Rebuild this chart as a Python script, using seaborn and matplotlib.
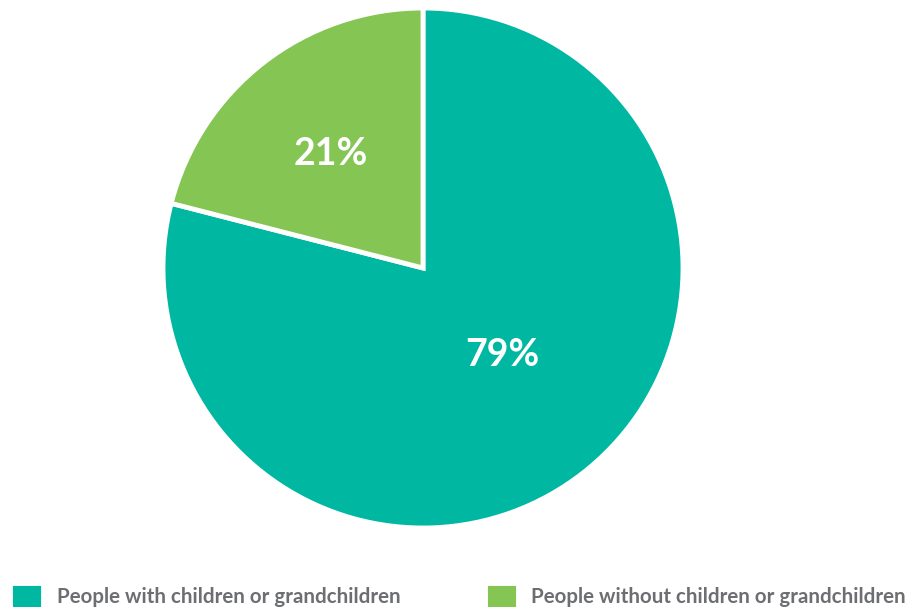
import numpy as np
import matplotlib.pyplot as plt
import seaborn as sns

labels = ['People with children or grandchildren', 'People without children or grandchildren']
shares = [79, 21]
colors = ['#00B7A2', '#84C553']

sns.set_theme(style='white')
plt.rcParams['font.family'] = ['Lato', 'DejaVu Sans']

fig = plt.figure(figsize=(9.12, 6.07), dpi=100)
ax = fig.add_axes([163 / 912, 1 - 528 / 607, 520 / 912, 520 / 607])

wedges, texts, autotexts = ax.pie(
    shares, colors=sns.color_palette(colors), startangle=90, counterclock=False,
    autopct='%d%%', pctdistance=0.5,
    wedgeprops=dict(edgecolor='white', linewidth=3.5),
    textprops=dict(color='white', fontsize=27, fontweight='bold'))

# place the percentage labels a bit differently per slice
for w, t, r, (nx, ny) in zip(wedges, autotexts, [0.45, 0.58], [(0.03, 0.02), (0, -0.02)]):
    mid = np.deg2rad((w.theta1 + w.theta2) / 2)
    t.set_position((r * np.cos(mid) + nx, r * np.sin(mid) + ny))

ax.set_xlim(-1, 1)
ax.set_ylim(-1, 1)
ax.set_aspect('equal')
ax.axis('off')

fig.legend(wedges, labels, loc='lower left', bbox_to_anchor=(10.5 / 912, -2 / 607), ncol=2,
           frameon=False, borderpad=0, borderaxespad=0,
           handlelength=1.6, handleheight=1.6, handletextpad=0.65,
           columnspacing=4.1, prop=dict(size=14.8, weight='bold'), labelcolor='#6D6E71')

fig.savefig('out.png', dpi=100)
